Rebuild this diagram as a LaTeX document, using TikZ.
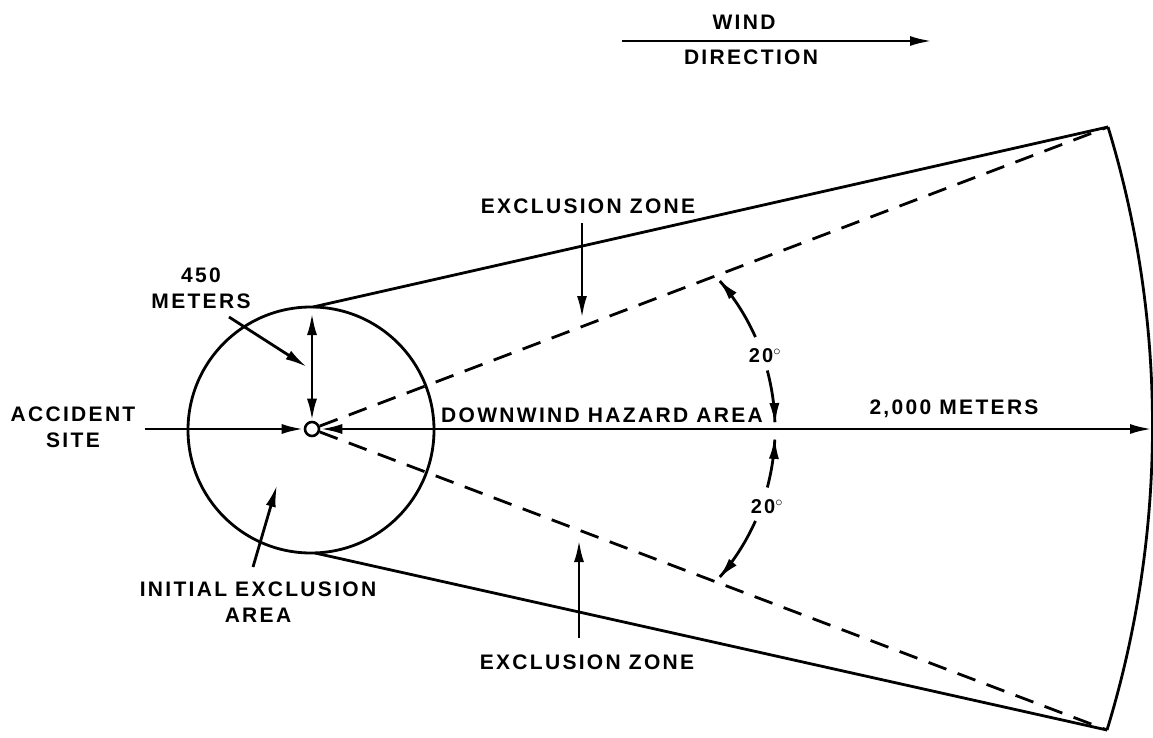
\documentclass[tikz,border=0pt]{standalone}
\usepackage{fontspec}
\newfontfamily\labfont{Liberation Sans}[LetterSpace=11]
\usetikzlibrary{arrows.meta}
\begin{document}
\begin{tikzpicture}[x=1pt,y=-1pt,line width=2.8pt,
  lab/.style={font=\labfont\bfseries\fontsize{21}{26}\selectfont,align=center,inner sep=0pt},
  deg/.style={font=\labfont\bfseries\fontsize{20}{22}\selectfont,inner sep=0pt},
  arr/.style={-{Latex[length=22pt,width=10pt]}},
  darr/.style={{Latex[length=22pt,width=10pt]}-{Latex[length=22pt,width=10pt]}},
  dashline/.style={dash pattern=on 19pt off 12pt}]
\useasboundingbox (0,0) rectangle (1153,738);
% main circles
\node[circle,draw,minimum size=246pt,inner sep=0pt] (big) at (311,430) {};
\node[circle,draw,minimum size=14pt,inner sep=0pt,line width=2.6pt] (sc) at (312,429) {};
% sector
\coordinate (tr) at (1108,127);
\coordinate (br) at (1107,730);
\coordinate (tt) at (313,307);
\coordinate (bt) at (315,553);
\draw (tt) -- (tr);
\draw (bt) -- (br);
\draw (tr) .. controls (1168,323) and (1167,534) .. (br);
\draw[dashline] (sc) -- (tr);
\draw[dashline] (sc) -- (br);
% downwind axis
\coordinate (hr) at (1152,429);
\draw[darr] (sc) -- (hr);
\node[lab] (dha) at (602,415) {DOWNWIND HAZARD AREA};
\node[lab] (km) at (954,409) {2,000 METERS};
% accident site
\node[lab] (acc) at (73,427) {ACCIDENT\\SITE};
\coordinate (as) at (145,429);
\draw[arr] (as) -- (sc);
% 450 meters
\node[lab] (m) at (201,288) {450\\METERS};
\coordinate (m1) at (229,317);
\coordinate (m2) at (307,367);
\draw[arr] (m1) -- (m2);
\coordinate (v1) at (312,313);
\draw[darr] (v1) -- (sc.north);
% initial exclusion area
\node[lab] (iea) at (258,602) {INITIAL EXCLUSION\\AREA};
\coordinate (i1) at (253,567);
\coordinate (i2) at (277,485);
\draw[arr] (i1) -- (i2);
% exclusion zones
\node[lab] (ez1) at (588,206) {EXCLUSION ZONE};
\coordinate (e1a) at (582,223);
\coordinate (e1b) at (582,318);
\draw[arr] (e1a) -- (e1b);
\node[lab] (ez2) at (587,662) {EXCLUSION ZONE};
\coordinate (e2a) at (579,638);
\coordinate (e2b) at (579,540);
\draw[arr] (e2a) -- (e2b);
% wind direction
\node[lab] (wind) at (744,22) {WIND};
\node[lab] (dir) at (751,57) {DIRECTION};
\coordinate (w1) at (622,41);
\coordinate (w2) at (932,41);
\draw[arr] (w1) -- (w2);
% angle arcs
\node[deg] (d1) at (765,356) {20$^{\circ}$};
\node[deg] (d2) at (767,507) {20$^{\circ}$};
\draw[arr] plot[domain=24:41.5,samples=30] ({549+226*cos(\x)},{429-226*sin(\x)});
\draw[arr] plot[domain=15:1,samples=20] ({549+226*cos(\x)},{429-226*sin(\x)});
\draw[arr] plot[domain=-24:-41.5,samples=30] ({549+226*cos(\x)},{429-226*sin(\x)});
\draw[arr] plot[domain=-15:-2,samples=20] ({549+226*cos(\x)},{429-226*sin(\x)});
\end{tikzpicture}
\end{document}
